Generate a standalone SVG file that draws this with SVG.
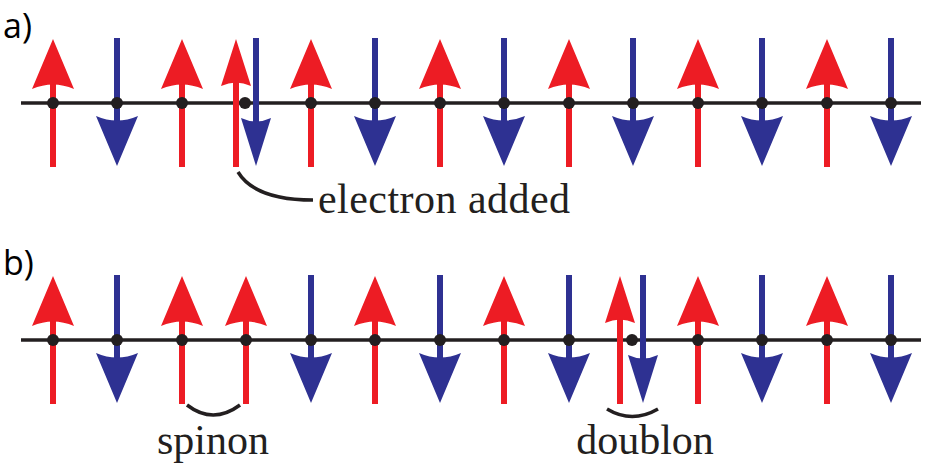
<svg xmlns="http://www.w3.org/2000/svg" width="926" height="468" viewBox="0 0 926 468" xmlns:xlink="http://www.w3.org/1999/xlink">
<style>
.ln{stroke:#231f20;stroke-width:3.5}
.up{fill:#ed1c24}.dn{fill:#2e3192}
.dot{fill:#231f20}
.lab{font-family:"Liberation Serif","Times New Roman",serif;font-size:42px;fill:#231f20}
.ab{font-family:"Open Sans","Liberation Sans",sans-serif;font-size:34px;fill:#000}
.br{fill:none;stroke:#231f20;stroke-width:3.5}
</style>
<defs>
<g id="U"><rect x="-3" y="80" width="6" height="87" class="up"/><path d="M0,39 L21,89 Q0,80 -21,89 Z" class="up"/></g>
<g id="D"><rect x="-3" y="38" width="6" height="87" class="dn"/><path d="M0,166 L21,116 Q0,125 -21,116 Z" class="dn"/></g>
<g id="Un"><rect x="-3" y="80" width="6" height="87" class="up"/><path d="M0,39 L15,86 Q0,79 -15,86 Z" class="up"/></g>
<g id="Dn"><rect x="-3" y="38" width="6" height="87" class="dn"/><path d="M0,166 L15,118 Q0,125 -15,118 Z" class="dn"/></g>
</defs>
<text class="ab" x="3" y="38">a)</text>
<text class="ab" x="3" y="275">b)</text>
<g id="rowA">
<line class="ln" x1="21" y1="103" x2="921" y2="103"/>
<use xlink:href="#U" x="53"/><use xlink:href="#D" x="117"/><use xlink:href="#U" x="182"/><use xlink:href="#Un" x="236"/><use xlink:href="#Dn" x="256"/><use xlink:href="#U" x="311"/><use xlink:href="#D" x="375"/><use xlink:href="#U" x="440"/><use xlink:href="#D" x="504"/><use xlink:href="#U" x="569"/><use xlink:href="#D" x="633"/><use xlink:href="#U" x="698"/><use xlink:href="#D" x="762"/><use xlink:href="#U" x="827"/><use xlink:href="#D" x="891"/>
<g class="dot"><circle cx="53" cy="103" r="6"/><circle cx="117" cy="103" r="6"/><circle cx="182" cy="103" r="6"/><circle cx="245" cy="103" r="6"/><circle cx="311" cy="103" r="6"/><circle cx="375" cy="103" r="6"/><circle cx="440" cy="103" r="6"/><circle cx="504" cy="103" r="6"/><circle cx="569" cy="103" r="6"/><circle cx="633" cy="103" r="6"/><circle cx="698" cy="103" r="6"/><circle cx="762" cy="103" r="6"/><circle cx="827" cy="103" r="6"/><circle cx="891" cy="103" r="6"/></g>
</g>
<g id="rowB" transform="translate(0,237)">
<line class="ln" x1="21" y1="103" x2="921" y2="103"/>
<use xlink:href="#U" x="53"/><use xlink:href="#D" x="117"/><use xlink:href="#U" x="182"/><use xlink:href="#U" x="246"/><use xlink:href="#D" x="311"/><use xlink:href="#U" x="375"/><use xlink:href="#D" x="440"/><use xlink:href="#U" x="504"/><use xlink:href="#D" x="569"/><use xlink:href="#Un" x="620"/><use xlink:href="#Dn" x="643"/><use xlink:href="#U" x="698"/><use xlink:href="#D" x="762"/><use xlink:href="#U" x="827"/><use xlink:href="#D" x="891"/>
<g class="dot"><circle cx="53" cy="103" r="6"/><circle cx="117" cy="103" r="6"/><circle cx="182" cy="103" r="6"/><circle cx="246" cy="103" r="6"/><circle cx="311" cy="103" r="6"/><circle cx="375" cy="103" r="6"/><circle cx="440" cy="103" r="6"/><circle cx="504" cy="103" r="6"/><circle cx="569" cy="103" r="6"/><circle cx="632" cy="103" r="6"/><circle cx="698" cy="103" r="6"/><circle cx="762" cy="103" r="6"/><circle cx="827" cy="103" r="6"/><circle cx="891" cy="103" r="6"/></g>
</g>
<g id="connectors">
<path class="br" d="M238,172 Q255,200 313,200"/>
<path class="br" d="M187,405 Q213,425 240,405"/>
<path class="br" d="M607,409 Q632,424 658,409"/>
</g>
<text class="lab" x="318" y="213" textLength="252">electron added</text>
<text class="lab" x="213" y="454" text-anchor="middle">spinon</text>
<text class="lab" x="645" y="454" text-anchor="middle">doublon</text>
</svg>
